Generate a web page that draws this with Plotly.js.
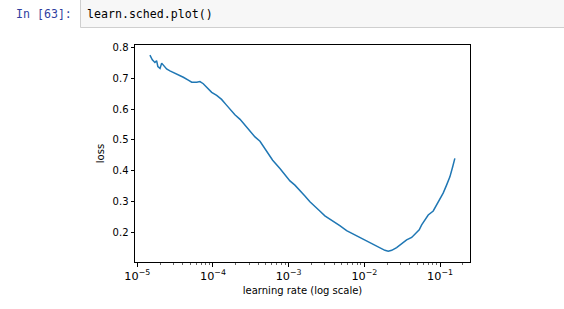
<!DOCTYPE html>
<html>
<head>
<meta charset="utf-8">
<script src="https://cdn.plot.ly/plotly-3.0.1.min.js"></script>
<style>
  html, body { margin: 0; padding: 0; background: #ffffff; }
  #chart { width: 564px; height: 309px; }
</style>
</head>
<body>
<div id="chart"></div>
<script>
// Learning rate (x, log scale)
const learningRate = [
  1.47e-5, 1.58e-5, 1.71e-5, 1.80e-5, 1.87e-5, 2.00e-5, 2.10e-5, 2.25e-5, 2.44e-5, 2.70e-5,
  2.99e-5, 3.48e-5, 4.06e-5, 4.72e-5, 5.24e-5, 6.10e-5, 6.73e-5, 7.45e-5, 8.26e-5, 9.62e-5,
  1.12e-4, 1.30e-4, 1.49e-4, 1.68e-4, 1.95e-4, 2.28e-4, 2.65e-4, 3.08e-4, 3.59e-4, 4.18e-4,
  4.86e-4, 5.68e-4, 6.15e-4, 7.67e-4, 8.93e-4, 1.04e-3, 1.21e-3, 1.41e-3, 1.64e-3, 1.91e-3,
  2.22e-3, 2.58e-3, 3.01e-3, 3.50e-3, 4.74e-3, 5.83e-3, 7.13e-3, 8.75e-3, 1.07e-2, 1.31e-2,
  1.61e-2, 1.87e-2, 2.07e-2, 2.30e-2, 2.67e-2, 3.11e-2, 3.62e-2, 4.22e-2, 4.66e-2, 5.31e-2,
  5.72e-2, 6.30e-2, 6.98e-2, 8.13e-2, 9.02e-2, 9.95e-2, 0.110, 0.122, 0.135, 0.147,
  0.157
];
// Loss values (y)
const loss = [
  0.776, 0.761, 0.752, 0.758, 0.739, 0.733, 0.750, 0.742, 0.731, 0.725,
  0.720, 0.713, 0.704, 0.695, 0.688, 0.688, 0.690, 0.683, 0.672, 0.655,
  0.645, 0.632, 0.615, 0.599, 0.582, 0.567, 0.549, 0.531, 0.510, 0.496,
  0.472, 0.447, 0.434, 0.407, 0.388, 0.367, 0.353, 0.337, 0.318, 0.299,
  0.285, 0.269, 0.253, 0.243, 0.221, 0.205, 0.194, 0.181, 0.170, 0.159,
  0.149, 0.141, 0.138, 0.141, 0.150, 0.162, 0.175, 0.183, 0.194, 0.208,
  0.224, 0.240, 0.256, 0.269, 0.289, 0.305, 0.327, 0.353, 0.380, 0.413,
  0.440
];
const yTickVals = [0.2, 0.3, 0.4, 0.5, 0.6, 0.7, 0.8];
const yTickText = ["0.2", "0.3", "0.4", "0.5", "0.6", "0.7", "0.8"];
const promptText = "In [63]:";
const codeText = "learn.sched.plot()";
const xTitle = "learning rate (log scale)";
const yTitle = "loss";

const tickFont = { family: "DejaVu Sans, sans-serif", size: 10, color: "#000000" };
const xTickFont = { family: "DejaVu Sans, sans-serif", size: 9, color: "#000000" };
const monoFamily = "DejaVu Sans Mono, Liberation Mono, monospace";

const trace = {
  x: learningRate,
  y: loss,
  type: "scatter",
  mode: "lines",
  line: { color: "#1f77b4", width: 1.5 },
  hoverinfo: "skip"
};

const layout = {
  width: 564,
  height: 309,
  margin: { l: 135, r: 94, t: 45, b: 47, pad: 0 },
  paper_bgcolor: "#ffffff",
  plot_bgcolor: "#ffffff",
  showlegend: false,
  xaxis: {
    type: "log",
    range: [-5.03, -0.604],
    dtick: 1,
    exponentformat: "power",
    showgrid: false,
    zeroline: false,
    showline: true,
    mirror: true,
    linecolor: "#000000",
    linewidth: 1,
    ticks: "outside",
    ticklen: 3.5,
    tickwidth: 1,
    tickcolor: "#000000",
    tickfont: xTickFont,
    automargin: false,
    minor: { ticks: "outside", ticklen: 2, tickwidth: 0.6, tickcolor: "#000000", dtick: "D1", showgrid: false },
    title: { text: xTitle, font: tickFont, standoff: 5 }
  },
  yaxis: {
    range: [0.103, 0.809],
    tickvals: yTickVals,
    ticktext: yTickText,
    showgrid: false,
    zeroline: false,
    showline: true,
    mirror: true,
    linecolor: "#000000",
    linewidth: 1,
    ticks: "outside",
    ticklen: 3.5,
    tickwidth: 1,
    tickcolor: "#000000",
    tickfont: tickFont,
    automargin: false,
    title: { text: yTitle, font: tickFont, standoff: 6 }
  },
  shapes: [
    {
      type: "rect", xref: "paper", yref: "paper",
      x0: -0.1627, x1: 1.30, y0: 1.0806, y1: 1.25,
      fillcolor: "#f7f7f7", line: { color: "#cfcfcf", width: 1 }, layer: "below"
    }
  ],
  annotations: [
    {
      text: promptText, xref: "paper", yref: "paper",
      x: -0.1821, y: 1.1429, xanchor: "right", yanchor: "middle",
      showarrow: false, font: { family: monoFamily, size: 11.6, color: "#303F9F" }
    },
    {
      text: codeText, xref: "paper", yref: "paper",
      x: -0.1493, y: 1.1429, xanchor: "left", yanchor: "middle",
      showarrow: false, font: { family: monoFamily, size: 11.6, color: "#000000" }
    }
  ]
};

Plotly.newPlot("chart", [trace], layout, { staticPlot: true, displayModeBar: false });
</script>
</body>
</html>
